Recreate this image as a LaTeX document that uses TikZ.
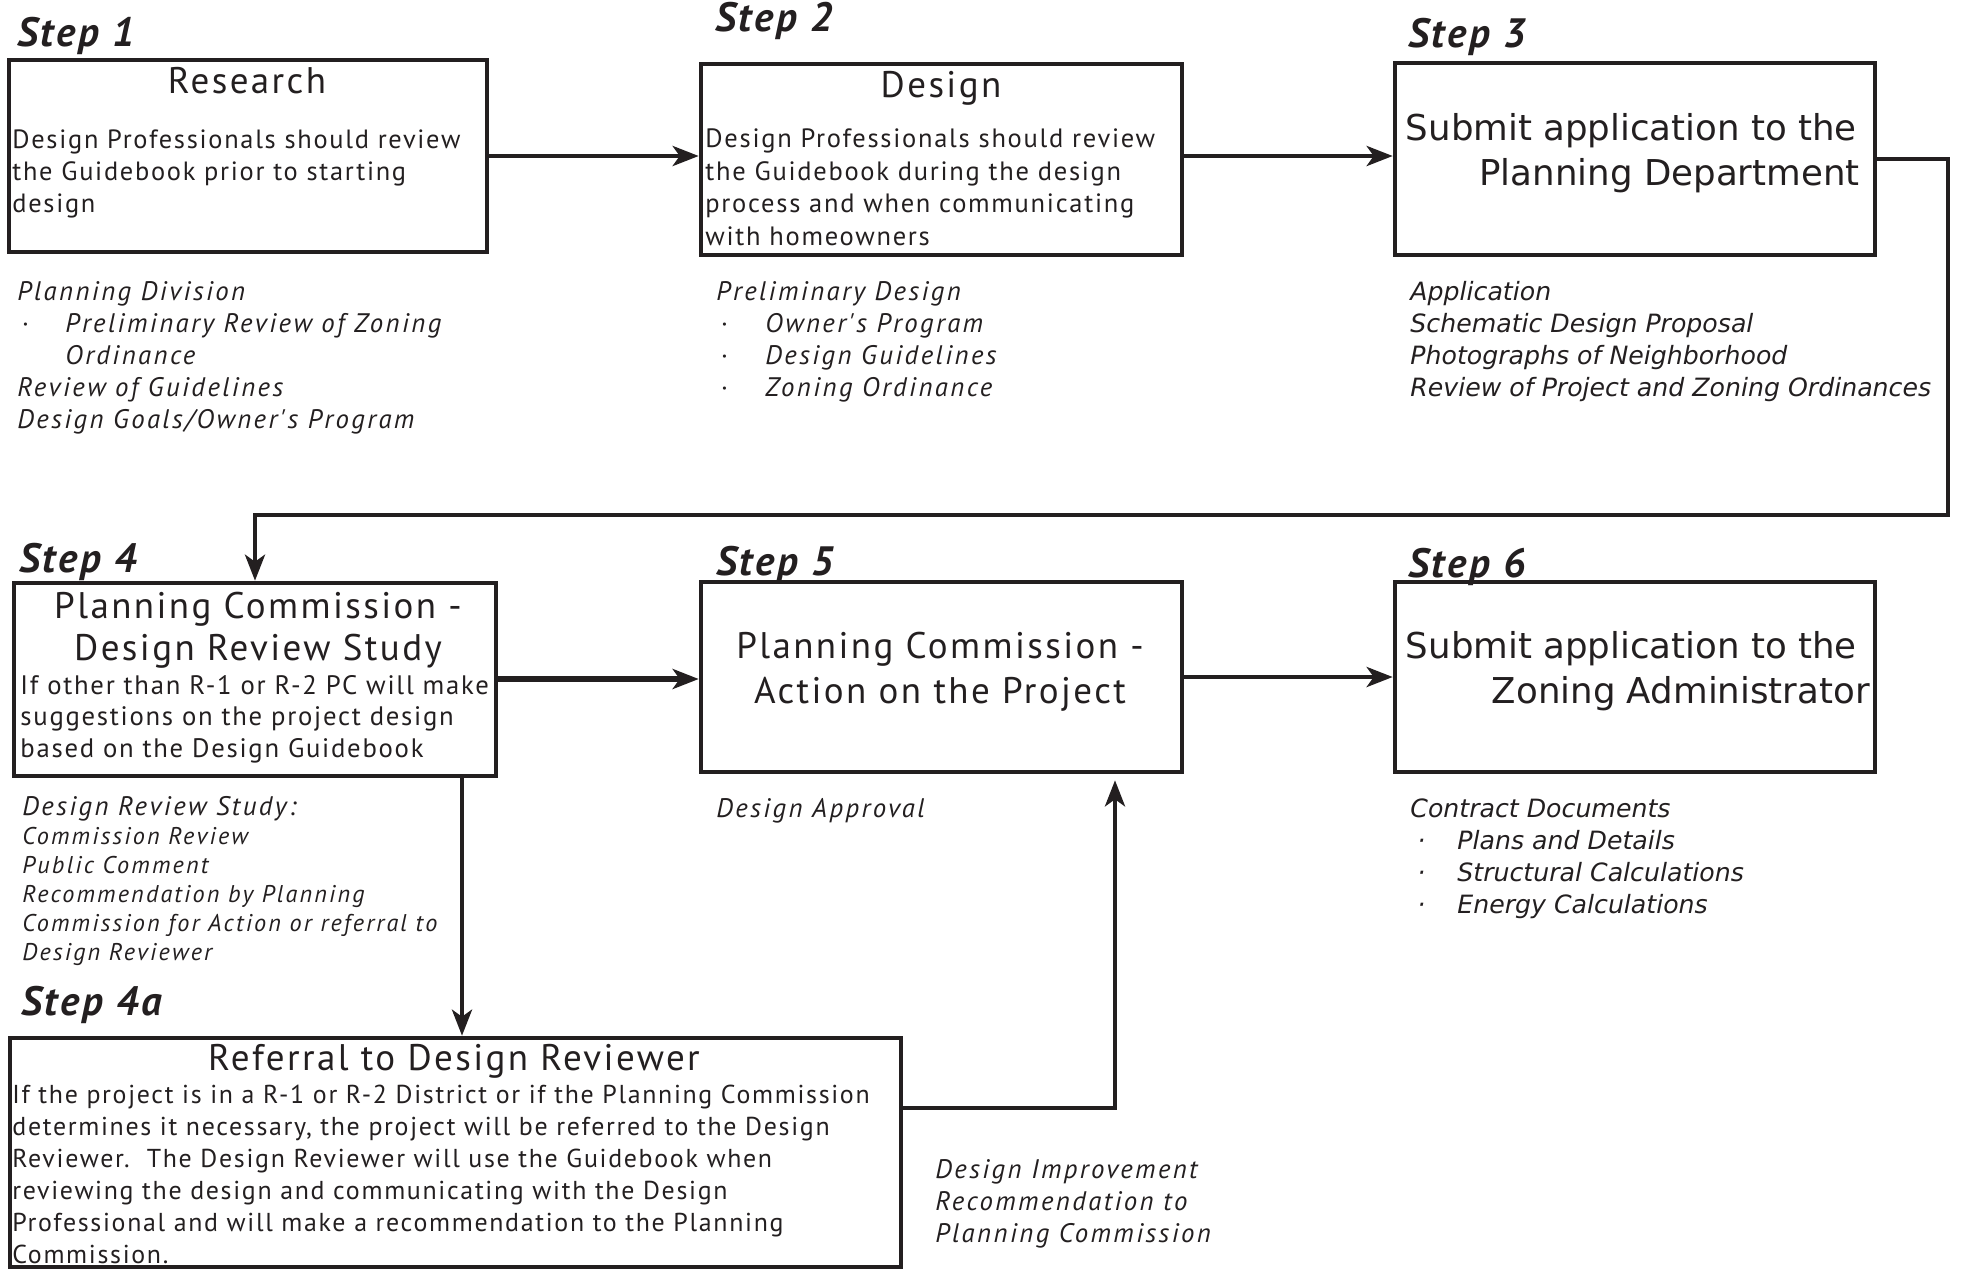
\documentclass[tikz,border=0pt]{standalone}
\usepackage{fontspec}
\setmainfont{PT Sans}[LetterSpace=6.5]
\newfontfamily\ptit{PT Sans}[LetterSpace=9]
\newfontfamily\luc{DejaVu Sans}[ItalicFont={DejaVu Sans Oblique}]
\usetikzlibrary{arrows.meta,fit}
\definecolor{ink}{HTML}{231F20}
\newcommand\bul[2]{\makebox[#2][l]{\hspace{#1}·}}
\begin{document}
\begin{tikzpicture}[x=0.5pt,y=-0.5pt,
  stepbox/.style={draw=ink, line width=2.3pt, inner sep=0pt},
  flow/.style={draw=ink, line width=2.2pt, -{Stealth[length=13pt,width=10pt,inset=3.5pt]}},
  thickflow/.style={flow, line width=3.4pt},
  txt/.style={inner sep=0pt, anchor=base west, align=left, text=ink},
  ttl/.style={inner sep=0pt, anchor=base, align=center, text=ink, font=\fontsize{18.5}{21}\selectfont},
  rttl/.style={inner sep=0pt, anchor=base east, text=ink, font=\luc\fontsize{17.8}{22.5}\selectfont},
  steplbl/.style={txt, font=\fontsize{20.5}{22}\selectfont\bfseries\itshape},
  body/.style={txt, font=\fontsize{13.2}{16}\selectfont},
  note/.style={txt, font=\ptit\fontsize{13.4}{16}\selectfont\itshape},
  lnote/.style={txt, font=\luc\fontsize{12.6}{16}\selectfont\itshape},
]
\useasboundingbox (0,0) rectangle (1963,1270);

% boxes
\node[stepbox, fit={(9,60) (487,252)}] (b1) {};
\node[stepbox, fit={(701,64) (1182,255)}] (b2) {};
\node[stepbox, fit={(1395,63) (1875,255)}] (b3) {};
\node[stepbox, fit={(14,583) (496,776)}] (b4) {};
\node[stepbox, fit={(701,582) (1182,772)}] (b5) {};
\node[stepbox, fit={(1395,582) (1875,772)}] (b6) {};
\node[stepbox, fit={(10,1038) (901,1267)}] (b4a) {};

% step labels
\node[steplbl] (s1) at (17,46) {Step 1};
\node[steplbl] (s2) at (715,31) {Step 2};
\node[steplbl] (s3) at (1408,47) {Step 3};
\node[steplbl] (s4) at (19,572) {Step 4};
\node[steplbl] (s5) at (716,575) {Step 5};
\node[steplbl] (s6) at (1408,577) {Step 6};
\node[steplbl] (s4a) at (21,1015) {Step 4a};

% box 1 (anchor = baseline of the last line)
\node[ttl] (t1) at (247,93) {Research};
\node[body] (x1) at (12,212) {Design Professionals should review\\the Guidebook prior to starting\\design};
\node[note] (n1) at (17,428) {Planning Division\\
\bul{2pt}{24pt}Preliminary Review of Zoning\\
\hspace*{24pt}Ordinance\\
Review of Guidelines\\
Design Goals/Owner's Program};

% box 2
\node[ttl] (t2) at (941,97) {Design};
\node[body, font=\fontsize{13.25}{16.2}\selectfont] (x2) at (705,245) {Design Professionals should review\\the Guidebook during the design\\process and when communicating\\with homeowners};
\node[note] (n2) at (716,396) {Preliminary Design\\
\bul{2pt}{24.5pt}Owner's Program\\
\bul{2pt}{24.5pt}Design Guidelines\\
\bul{2pt}{24.5pt}Zoning Ordinance};

% box 3
\node[rttl] (t3a) at (1857,140) {Submit application to the};
\node[rttl] (t3b) at (1860,185) {Planning Department};
\node[lnote] (n3) at (1410,396) {Application\\Schematic Design Proposal\\Photographs of Neighborhood\\Review of Project and Zoning Ordinances};

% box 4
\node[ttl] (t4) at (258,660) {Planning Commission -\\Design Review Study};
\node[body, font=\fontsize{13.35}{15.75}\selectfont] (x4) at (20,757) {If other than R-1 or R-2 PC will make\\suggestions on the project design\\based on the Design Guidebook};
\node[note] (n4a) at (22,815) {Design Review Study:};
\node[note, font=\ptit\fontsize{12.1}{14.4}\selectfont\itshape] (n4b) at (22,960) {Commission Review\\Public Comment\\Recommendation by Planning\\Commission for Action or referral to\\Design Reviewer};

% box 5
\node[ttl, font=\fontsize{18.5}{22.5}\selectfont] (t5) at (940,703) {Planning Commission -\\Action on the Project};
\node[note] (n5) at (716,817) {Design Approval};

% box 6
\node[rttl] (t6a) at (1857,658) {Submit application to the};
\node[rttl] (t6b) at (1870,703) {Zoning Administrator};
\node[lnote] (n6) at (1410,913) {Contract Documents\\
\bul{3.5pt}{23.5pt}Plans and Details\\
\bul{3.5pt}{23.5pt}Structural Calculations\\
\bul{3.5pt}{23.5pt}Energy Calculations};

% box 4a
\node[ttl] (t4x) at (454,1070) {Referral to Design Reviewer};
\node[body, font=\fontsize{12.95}{16}\selectfont] (x4x) at (12,1263) {If the project is in a R-1 or R-2 District or if the Planning Commission\\determines it necessary, the project will be referred to the Design\\Reviewer.\ \ The Design Reviewer will use the Guidebook when\\reviewing the design and communicating with the Design\\Professional and will make a recommendation to the Planning\\Commission.};
\node[note] (n7) at (935,1242) {Design Improvement\\Recommendation to\\Planning Commission};

% connectors
\coordinate (r3) at (1948,515);
\coordinate (d4) at (462,0);
\coordinate (e1) at (1115,1108);
\draw[flow] (b1.east |- 0,156) -- (b2.west |- 0,156);
\draw[flow] (b2.east |- 0,156) -- (b3.west |- 0,156);
\draw[flow] (b3.east |- 0,159) -| (r3) -| (b4.north);
\draw[thickflow] (b4.east |- 0,679) -- (b5.west |- 0,679);
\draw[flow] (b5.east |- 0,677) -- (b6.west |- 0,677);
\draw[flow] (b4.south -| d4) -- (b4a.north -| d4);
\draw[flow, shorten >=3pt] (b4a.east |- e1) -- (e1) -- (e1 |- b5.south);
\end{tikzpicture}
\end{document}
